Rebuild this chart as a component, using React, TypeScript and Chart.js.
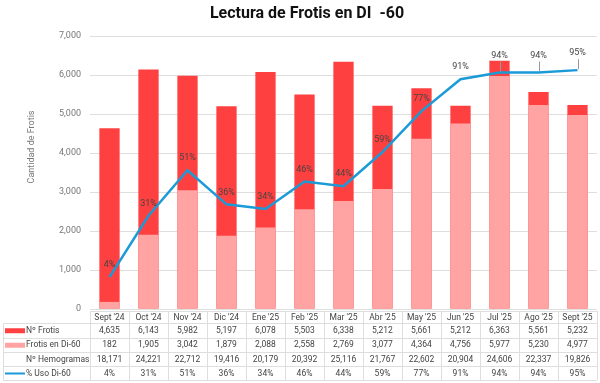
import React, { useEffect, useRef } from "react";
import { Chart, registerables } from "chart.js";

Chart.register(...registerables);

const categories = ["Sept '24", "Oct '24", "Nov '24", "Dic '24", "Ene '25", "Feb '25", "Mar '25", "Abr '25", "May '25", "Jun '25", "Jul '25", "Ago '25", "Sept '25"];
const frotis = [4635, 6143, 5982, 5197, 6078, 5503, 6338, 5212, 5661, 5212, 6363, 5561, 5232];
const frotisDi60 = [182, 1905, 3042, 1879, 2088, 2558, 2769, 3077, 4364, 4756, 5977, 5230, 4977];
const hemogramas = [18171, 24221, 22712, 19416, 20179, 20392, 25116, 21767, 22602, 20904, 24606, 22337, 19826];
const usoPct = [4, 31, 51, 36, 34, 46, 44, 59, 77, 91, 94, 94, 95];

const RED = "#ff4040";
const PINK = "#ffa3a3";
const BLUE = "#1a9bd7";
const TXT = "#444444";
const GRID = "#dedede";
const FONT = "Roboto, 'Liberation Sans', sans-serif";

const fmt = (v: number) => v.toLocaleString("en-US");

const overlayPlugin = {
  id: "overlay",
  afterDatasetsDraw(chart: any) {
    const ctx = chart.ctx;
    const meta = chart.getDatasetMeta(2);
    ctx.save();
    ctx.font = `9px ${FONT}`;
    ctx.fillStyle = TXT;
    ctx.textAlign = "center";
    ctx.textBaseline = "middle";
    meta.data.forEach((pt: any, i: number) => {
      const lifted = i >= 10;
      const off = lifted ? 17 : 12;
      if (lifted) {
        ctx.strokeStyle = "#999";
        ctx.lineWidth = 1;
        ctx.beginPath();
        ctx.moveTo(Math.round(pt.x) + 0.5, pt.y - 11);
        ctx.lineTo(Math.round(pt.x) + 0.5, pt.y - 1);
        ctx.stroke();
      }
      ctx.fillText(usoPct[i] + "%", pt.x, pt.y - off);
    });
    ctx.restore();
  },
  afterDraw(chart: any) {
    const ctx = chart.ctx;
    const xs = chart.scales.x;
    const area = chart.chartArea;
    ctx.save();
    // title
    ctx.font = `bold 16px ${FONT}`;
    ctx.fillStyle = "#111";
    ctx.textAlign = "center";
    ctx.textBaseline = "middle";
    ctx.fillText("Lectura de Frotis en DI  -60", 307, 14);
    // y axis title
    ctx.save();
    ctx.translate(32, 147);
    ctx.rotate(-Math.PI / 2);
    ctx.font = `9px ${FONT}`;
    ctx.fillStyle = "#777";
    ctx.fillText("Cantidad de Frotis", 0, 0);
    ctx.restore();

    // table
    const rowY = [311, 323, 337.5, 352, 366, 380];
    const left = 3;
    const colStart = area.left;
    const right = area.right;
    const half = (xs.getPixelForValue(1) - xs.getPixelForValue(0)) / 2;
    ctx.strokeStyle = GRID;
    ctx.lineWidth = 1;
    ctx.beginPath();
    ctx.moveTo(colStart, rowY[0] + 0.5);
    ctx.lineTo(right, rowY[0] + 0.5);
    for (let r = 1; r < rowY.length; r++) {
      ctx.moveTo(left, Math.round(rowY[r]) + 0.5);
      ctx.lineTo(right, Math.round(rowY[r]) + 0.5);
    }
    ctx.moveTo(left + 0.5, rowY[1]);
    ctx.lineTo(left + 0.5, rowY[5]);
    for (let i = 0; i <= categories.length; i++) {
      const x = i < categories.length ? xs.getPixelForValue(i) - half : xs.getPixelForValue(categories.length - 1) + half;
      ctx.moveTo(Math.round(x) + 0.5, rowY[0]);
      ctx.lineTo(Math.round(x) + 0.5, rowY[5]);
    }
    ctx.stroke();

    ctx.font = `8.5px ${FONT}`;
    ctx.fillStyle = TXT;
    ctx.textAlign = "center";
    ctx.textBaseline = "middle";
    const rows: string[][] = [
      categories,
      frotis.map(fmt),
      frotisDi60.map(fmt),
      hemogramas.map(fmt),
      usoPct.map((v) => v + "%"),
    ];
    rows.forEach((row, r) => {
      const cy = (rowY[r] + rowY[r + 1]) / 2 + 0.5;
      row.forEach((t, i) => {
        ctx.fillText(t, xs.getPixelForValue(i), cy);
      });
    });

    // legend column
    const labels = ["Nº Frotis", "Frotis en Di-60", "Nº Hemogramas", "% Uso Di-60"];
    ctx.textAlign = "left";
    labels.forEach((lab, k) => {
      const cy = (rowY[k + 1] + rowY[k + 2]) / 2 + 0.5;
      if (k === 0 || k === 1) {
        ctx.fillStyle = k === 0 ? RED : PINK;
        ctx.fillRect(5, cy - 2.5, 20, 5);
      } else if (k === 3) {
        ctx.strokeStyle = BLUE;
        ctx.lineWidth = 2;
        ctx.beginPath();
        ctx.moveTo(5, cy);
        ctx.lineTo(25, cy);
        ctx.stroke();
      }
      ctx.fillStyle = TXT;
      ctx.fillText(lab, 26, cy);
    });
    ctx.restore();
  },
};

export default function App() {
  const ref = useRef<HTMLCanvasElement | null>(null);
  useEffect(() => {
    document.body.style.margin = "0";
    if (!ref.current) return;
    const chart = new Chart(ref.current, {
      type: "bar",
      data: {
        labels: categories,
        datasets: [
          {
            type: "bar",
            label: "Nº Frotis",
            data: frotis,
            backgroundColor: RED,
            grouped: false,
            order: 3,
            yAxisID: "y",
            categoryPercentage: 1,
            barPercentage: 0.52,
          } as any,
          {
            type: "bar",
            label: "Frotis en Di-60",
            data: frotisDi60,
            backgroundColor: PINK,
            grouped: false,
            order: 2,
            yAxisID: "y",
            categoryPercentage: 1,
            barPercentage: 0.52,
          } as any,
          {
            type: "line",
            label: "% Uso Di-60",
            data: usoPct,
            borderColor: BLUE,
            borderWidth: 2.5,
            pointRadius: 0,
            tension: 0,
            order: 1,
            yAxisID: "y1",
          } as any,
        ],
      },
      options: {
        responsive: false,
        animation: false,
        layout: { padding: { left: 0, right: 3, top: 36, bottom: 74 } },
        plugins: {
          legend: { display: false },
          tooltip: { enabled: false },
          title: { display: false },
        },
        scales: {
          x: { display: false, offset: true },
          y: {
            min: 0,
            max: 7000,
            border: { display: false },
            grid: { color: GRID, drawTicks: false },
            ticks: {
              stepSize: 1000,
              padding: 9,
              color: "#777",
              font: { size: 9, family: FONT },
              callback: (v: any) => fmt(Number(v)),
            },
            afterFit: (s: any) => {
              s.width = 90;
            },
          },
          y1: { display: false, min: -10, max: 110 },
        },
      } as any,
      plugins: [overlayPlugin],
    });
    return () => chart.destroy();
  }, []);
  return (
    <div style={{ position: "absolute", left: 0, top: 0, width: 600, height: 383, background: "#fff" }}>
      <canvas ref={ref} width={600} height={383} style={{ width: 600, height: 383 }} />
    </div>
  );
}
